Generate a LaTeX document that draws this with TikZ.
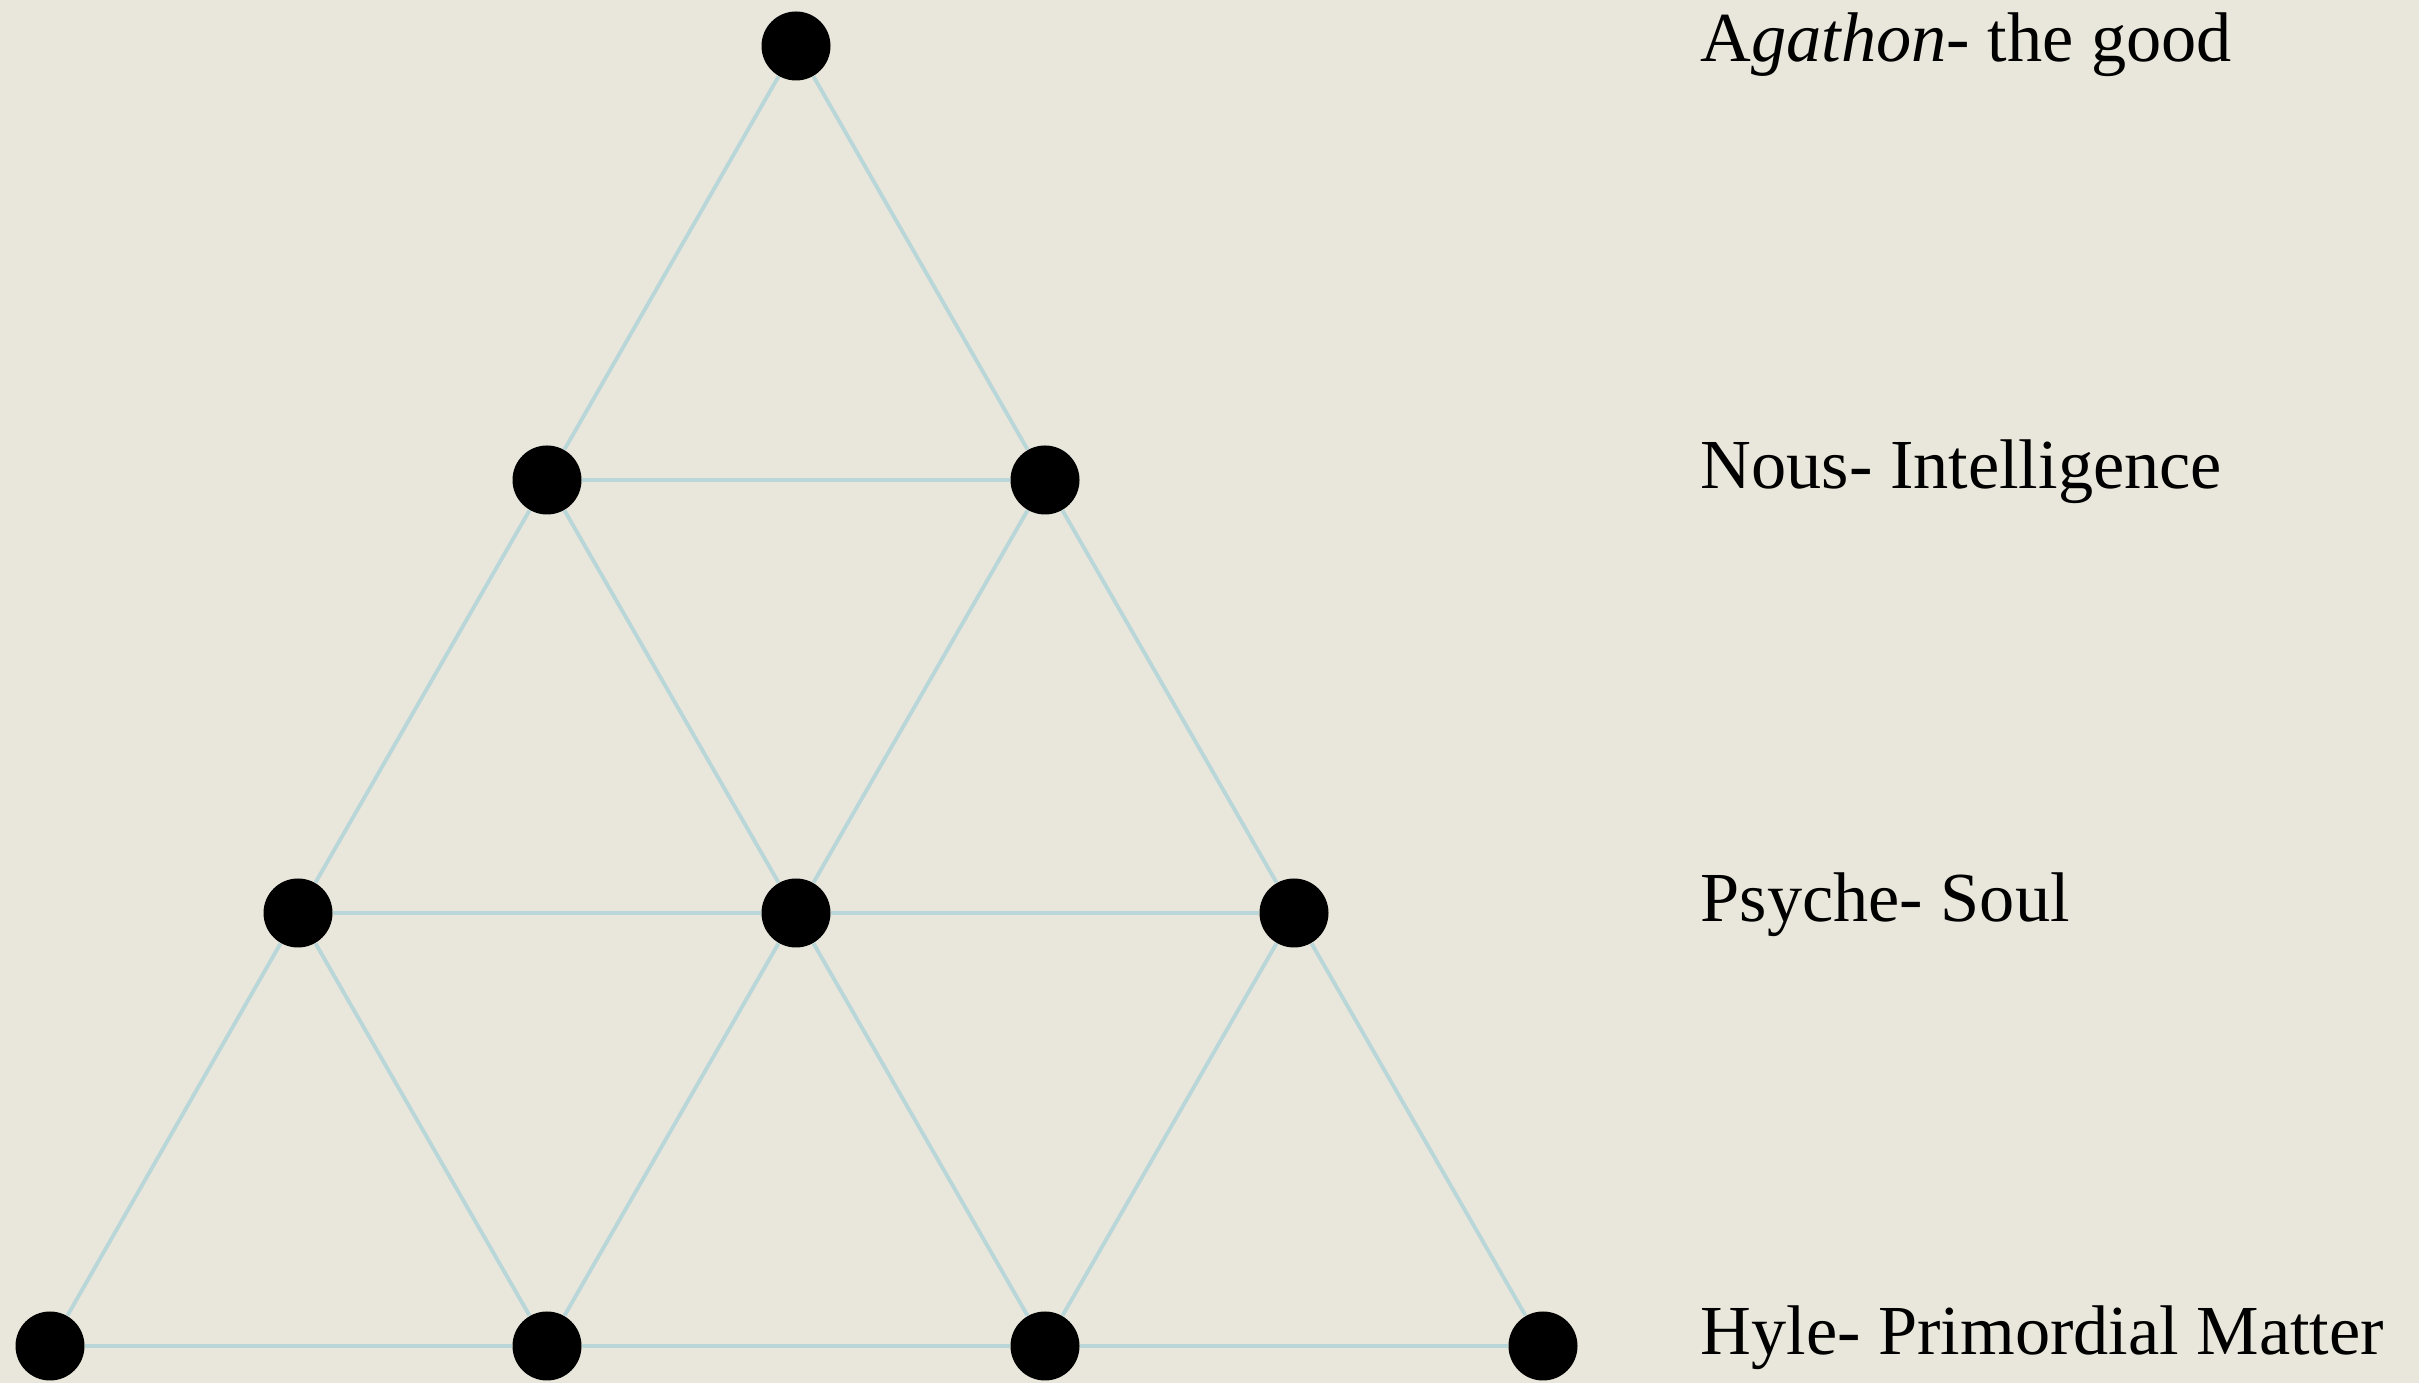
\documentclass[tikz,border=0pt]{standalone}
\usepackage{fontspec}
\setmainfont{Liberation Serif}

\definecolor{paper}{RGB}{233,231,219}
\definecolor{edgeblue}{RGB}{185,214,216}

\newcommand*{\picw}{24.19}
\newcommand*{\pich}{13.83}

\begin{document}
\begin{tikzpicture}
[
	dot/.style={circle,fill=black,inner sep=0pt,minimum size=0.69cm},
	link/.style={edgeblue,line width=1.1pt},
	level/.style={anchor=mid west,inner sep=0pt,font=\fontsize{20}{24}\selectfont}
]

	% background
	\fill[paper] (0,0) rectangle (\picw,\pich);
	\useasboundingbox (0,0) rectangle (\picw,\pich);

	% points
	\node[dot] (p1) at (7.96,13.37) {};
	\node[dot] (p21) at (5.47,9.03) {};
	\node[dot] (p22) at (10.45,9.03) {};
	\node[dot] (p31) at (2.98,4.70) {};
	\node[dot] (p32) at (7.96,4.70) {};
	\node[dot] (p33) at (12.94,4.70) {};
	\node[dot] (p41) at (0.50,0.37) {};
	\node[dot] (p42) at (5.47,0.37) {};
	\node[dot] (p43) at (10.45,0.37) {};
	\node[dot] (p44) at (15.43,0.37) {};

	% lines
	\draw[link] (p1) -- (p21) -- (p22) -- (p1);
	\draw[link] (p21) -- (p31) -- (p32) -- (p21);
	\draw[link] (p22) -- (p32) -- (p33) -- (p22);
	\draw[link] (p31) -- (p41) -- (p42) -- (p31);
	\draw[link] (p32) -- (p42) -- (p43) -- (p32);
	\draw[link] (p33) -- (p43) -- (p44) -- (p33);

	% labels
	\node[level] (agathon) at (17.00,13.30) {A\textit{gathon}- the good};
	\node[level] (nous) at (17.00,9.03) {Nous- Intelligence};
	\node[level] (psyche) at (17.00,4.70) {Psyche- Soul};
	\node[level] (hyle) at (17.00,0.37) {Hyle- Primordial Matter};

\end{tikzpicture}
\end{document}
